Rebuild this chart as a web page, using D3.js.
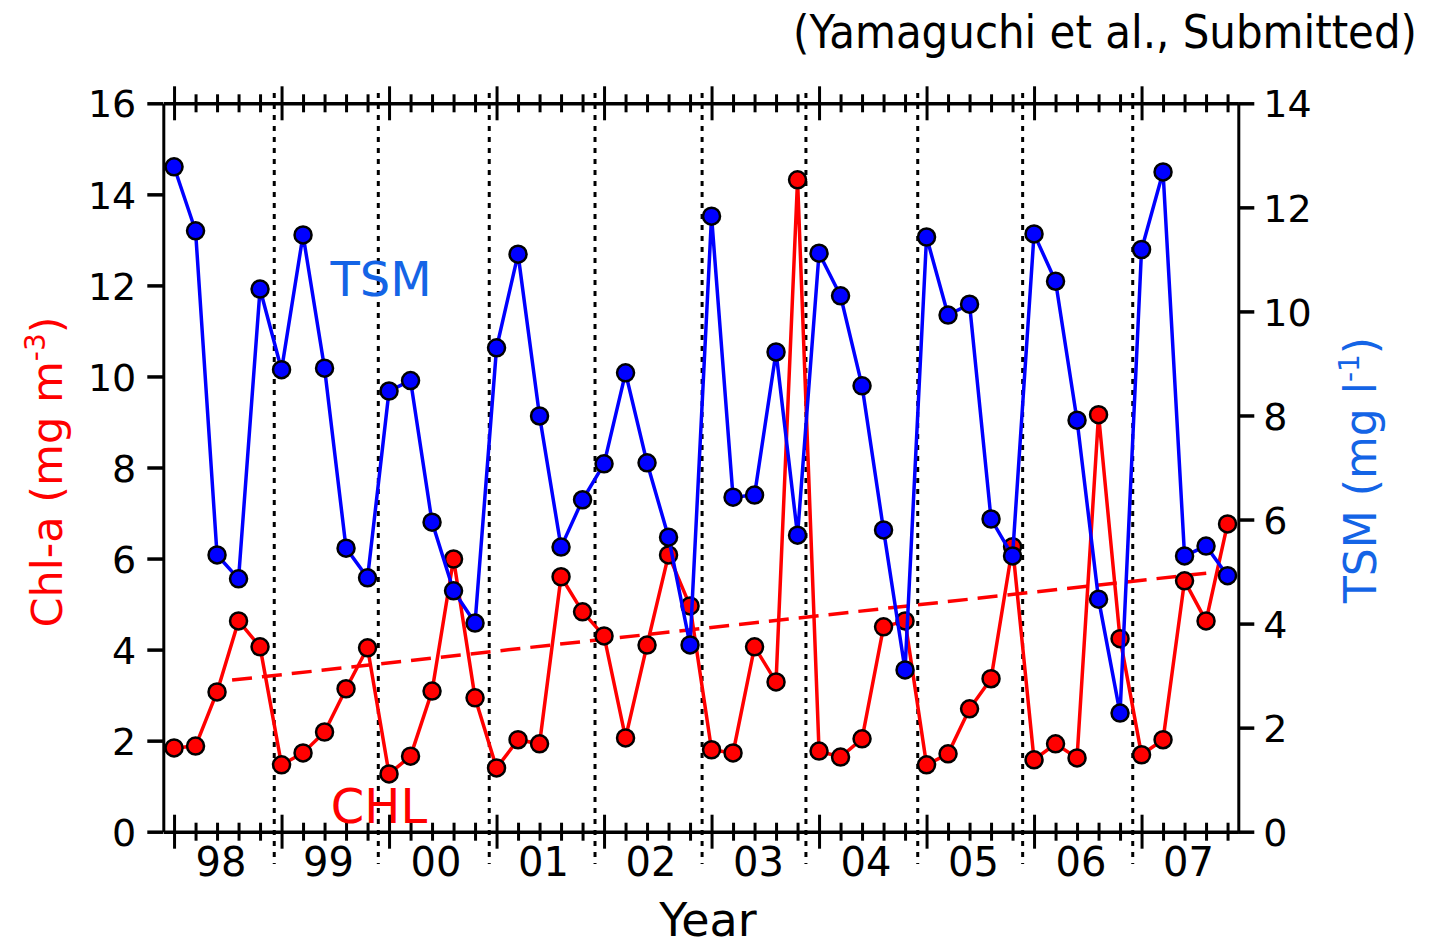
<!DOCTYPE html>
<html>
<head>
<meta charset="utf-8">
<script src="https://cdn.jsdelivr.net/npm/d3@7/dist/d3.min.js"></script>
<style>
  body { margin: 0; background: #fff; }
  svg { display: block; }
  text { font-family: "DejaVu Sans", sans-serif; }
</style>
</head>
<body>
<svg id="chart" width="1432" height="938"></svg>
<script>
// Data: 5 samples per year, 1998-2007
var years = ["98", "99", "00", "01", "02", "03", "04", "05", "06", "07"];

var chl = [1.84, 1.88, 3.07, 4.63, 4.06,
           1.47, 1.73, 2.19, 3.14, 4.04,
           1.27, 1.66, 3.09, 5.99, 2.94,
           1.40, 2.02, 1.93, 5.60, 4.83,
           4.30, 2.06, 4.10, 6.08, 4.96,
           1.80, 1.73, 4.06, 3.29, 14.32,
           1.77, 1.64, 2.04, 4.50, 4.63,
           1.47, 1.71, 2.70, 3.36, 6.26,
           1.58, 1.93, 1.62, 9.16, 4.24,
           1.69, 2.02, 5.51, 4.63, 6.76];

var tsm = [12.78, 11.55, 5.32, 4.86, 10.43,
           8.88, 11.47, 8.91, 5.45, 4.88,
           8.47, 8.67, 5.95, 4.63, 4.01,
           9.30, 11.10, 7.99, 5.47, 6.38,
           7.07, 8.82, 7.09, 5.66, 3.59,
           11.83, 6.43, 6.47, 9.22, 5.70,
           11.12, 10.30, 8.57, 5.80, 3.11,
           11.43, 9.93, 10.14, 6.01, 5.30,
           11.49, 10.58, 7.91, 4.47, 2.28,
           11.19, 12.68, 5.30, 5.49, 4.92];

// year boundaries (in sample-index units) as drawn in the figure
var yearBreaks = [5.16, 10.0, 15.16, 20.08, 25.06, 29.89, 35.09, 39.97, 45.09];

// linear trend of Chl-a: start/end index and value
var trendIdx = [3.2, 49.5];
var trendVal = [3.33, 5.73];

var chlTicks = [0, 2, 4, 6, 8, 10, 12, 14, 16];
var tsmTicks = [0, 2, 4, 6, 8, 10, 12, 14];

var svg = d3.select("#chart");
var plotL = 163.3, plotR = 1238.3, plotT = 103.3, plotB = 831.7;

var x = d3.scaleLinear().domain([0, chl.length]).range([plotL, plotR]);
var yL = d3.scaleLinear().domain([0, 16]).range([plotB, plotT]);
var yR = d3.scaleLinear().domain([0, 14]).range([plotB, plotT]);

var blue = "#0000ff", red = "#ff0000", labelBlue = "#1464e6";

// dotted year separators
svg.append("g").selectAll("line")
    .data(yearBreaks)
    .enter().append("line")
    .attr("x1", function (d) { return x(d); })
    .attr("x2", function (d) { return x(d); })
    .attr("y1", 93)
    .attr("y2", 864)
    .attr("stroke", "#000")
    .attr("stroke-width", 3)
    .attr("stroke-dasharray", "5,6");

// x axes (top and bottom), one tick per sample, longer tick at start of year
var tickVals = d3.range(chl.length).map(function (i) { return i + 0.5; });

function styleXAxis(g) {
    g.select(".domain").attr("stroke-width", 3.5);
    g.selectAll(".tick text").remove();
    g.selectAll(".tick line")
        .attr("stroke-width", 3)
        .attr("y1", function (d) { return (d - 0.5) % 5 === 0 ? 17 : 9; })
        .attr("y2", function (d) { return (d - 0.5) % 5 === 0 ? -17 : -9; });
}

svg.append("g")
    .attr("transform", "translate(0," + plotT + ")")
    .call(d3.axisTop(x).tickValues(tickVals).tickSizeOuter(0))
    .call(styleXAxis);

svg.append("g")
    .attr("transform", "translate(0," + plotB + ")")
    .call(d3.axisBottom(x).tickValues(tickVals).tickSizeOuter(0))
    .call(styleXAxis);

// y axes
var gL = svg.append("g")
    .attr("transform", "translate(" + plotL + ",0)")
    .call(d3.axisLeft(yL).tickValues(chlTicks).tickSize(16).tickPadding(11).tickSizeOuter(0));
var gR = svg.append("g")
    .attr("transform", "translate(" + plotR + ",0)")
    .call(d3.axisRight(yR).tickValues(tsmTicks).tickSize(16).tickPadding(9).tickSizeOuter(0));

[gL, gR].forEach(function (g) {
    g.select(".domain").attr("stroke-width", 3);
    g.selectAll(".tick line").attr("stroke-width", 3.5);
    g.selectAll(".tick text")
        .attr("font-family", "DejaVu Sans, sans-serif")
        .attr("font-size", 38)
        .attr("fill", "#000")
        .attr("dy", "0.36em");
});

// year labels
svg.append("g").selectAll("text")
    .data(years)
    .enter().append("text")
    .attr("x", function (d, i) { return x(i * 5 + 2.5) + 4; })
    .attr("y", 876)
    .attr("text-anchor", "middle")
    .attr("font-size", 40)
    .text(function (d) { return d; });

svg.append("text")
    .attr("x", 708)
    .attr("y", 936)
    .attr("text-anchor", "middle")
    .attr("font-size", 46)
    .text("Year");

// trend line
svg.append("line")
    .attr("x1", x(trendIdx[0]))
    .attr("y1", yL(trendVal[0]))
    .attr("x2", x(trendIdx[1]))
    .attr("y2", yL(trendVal[1]))
    .attr("stroke", red)
    .attr("stroke-width", 3.5)
    .attr("stroke-dasharray", "20,10");

// series
function drawSeries(values, y, color) {
    var line = d3.line()
        .x(function (d, i) { return x(i + 0.5); })
        .y(function (d) { return y(d); });
    svg.append("path")
        .datum(values)
        .attr("d", line)
        .attr("fill", "none")
        .attr("stroke", color)
        .attr("stroke-width", 3.5);
    svg.append("g").selectAll("circle")
        .data(values)
        .enter().append("circle")
        .attr("cx", function (d, i) { return x(i + 0.5); })
        .attr("cy", function (d) { return y(d); })
        .attr("r", 8.5)
        .attr("fill", color)
        .attr("stroke", "#000")
        .attr("stroke-width", 2.5);
}

drawSeries(chl, yL, red);
drawSeries(tsm, yR, blue);

// in-plot labels
svg.append("text")
    .attr("x", 381).attr("y", 296)
    .attr("text-anchor", "middle")
    .attr("font-size", 48)
    .attr("fill", labelBlue)
    .text("TSM");

svg.append("text")
    .attr("x", 379).attr("y", 823)
    .attr("text-anchor", "middle")
    .attr("font-size", 48)
    .attr("fill", red)
    .text("CHL");

// axis titles
var tL = svg.append("text")
    .attr("transform", "translate(62,472) rotate(-90)")
    .attr("text-anchor", "middle")
    .attr("font-size", 43)
    .attr("fill", red);
tL.append("tspan").text("Chl-a (mg m");
tL.append("tspan").attr("font-size", 28).attr("dy", -17).text("-3");
tL.append("tspan").attr("dy", 17).text(")");

var tR = svg.append("text")
    .attr("transform", "translate(1376,470) rotate(-90)")
    .attr("text-anchor", "middle")
    .attr("font-size", 44)
    .attr("fill", labelBlue);
tR.append("tspan").text("TSM (mg l");
tR.append("tspan").attr("font-size", 28).attr("dy", -17).text("-1");
tR.append("tspan").attr("dy", 17).text(")");

// citation (narrow face in the original)
svg.append("text")
    .attr("x", 793).attr("y", 48)
    .attr("font-family", "Liberation Sans, sans-serif")
    .attr("font-size", 46)
    .attr("textLength", 624)
    .attr("lengthAdjust", "spacingAndGlyphs")
    .text("(Yamaguchi et al., Submitted)");
</script>
</body>
</html>
